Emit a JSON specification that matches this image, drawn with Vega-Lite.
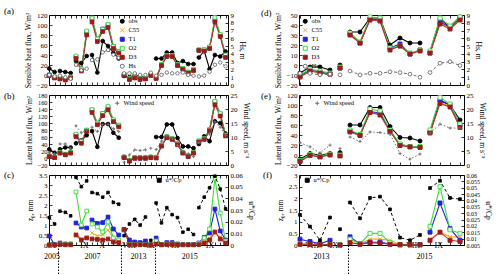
{
"$schema":"https://vega.github.io/schema/vega-lite/v6.json",
"padding":{"left":3,"top":6,"right":2,"bottom":0},
"background":"white",
"config":{
 "font":"Liberation Serif",
 "view":{"stroke":"black","strokeWidth":1},
 "axis":{"labelFont":"Liberation Serif","titleFont":"Liberation Serif","labelFontSize":7,"titleFontSize":7.6,"titleFontWeight":"normal","labelColor":"black","titleColor":"black","tickColor":"black","tickSize":-3,"tickWidth":0.8,"domain":false,"grid":false,"labelPadding":5,"labelOverlap":false,"labelFlush":false,"titlePadding":4},
 "legend":{"labelFont":"Liberation Serif","labelFontSize":6.5,"labelColor":"black","symbolSize":16,"rowPadding":0,"padding":0,"symbolStrokeWidth":1,"labelOffset":3},
 "title":{"font":"Liberation Serif","fontSize":9,"fontWeight":"normal","anchor":"start","frame":"group","offset":0,"baseline":"middle","orient":"top"}
},
"datasets":{
"a":[
{"i":0,"g":1,"obs":13,"C55":0,"T1":0,"O2":0,"D3":-1,"Hs":1.3},
{"i":1,"g":1,"obs":6,"C55":-5,"T1":-5,"O2":-4,"D3":-6,"Hs":1.1},
{"i":2,"g":2,"obs":8,"C55":-7,"T1":-7,"O2":-6,"D3":-8,"Hs":1.2},
{"i":3,"g":2,"obs":6,"C55":-9,"T1":-9,"O2":-8,"D3":-10,"Hs":1.0},
{"i":4,"g":2,"obs":4,"C55":-5,"T1":-5,"O2":-4,"D3":-6,"Hs":0.8},
{"i":5,"g":3,"obs":28,"C55":36,"T1":36,"O2":38,"D3":33,"Hs":2.6},
{"i":6,"g":3,"obs":24,"C55":10,"T1":10,"O2":12,"D3":8,"Hs":1.9},
{"i":7,"g":3,"obs":38,"C55":85,"T1":86,"O2":88,"D3":80,"Hs":2.1},
{"i":8,"g":4,"obs":40,"C55":111,"T1":113,"O2":114,"D3":106,"Hs":3.2},
{"i":9,"g":4,"obs":5,"C55":70,"T1":71,"O2":72,"D3":67,"Hs":3.3},
{"i":10,"g":4,"obs":68,"C55":90,"T1":92,"O2":91,"D3":87,"Hs":4.2},
{"i":11,"g":4,"obs":58,"C55":99,"T1":100,"O2":101,"D3":95,"Hs":4.5},
{"i":12,"g":4,"obs":44,"C55":56,"T1":57,"O2":57,"D3":53,"Hs":3.9},
{"i":13,"g":4,"obs":33,"C55":46,"T1":47,"O2":47,"D3":44,"Hs":3.5},
{"i":14,"g":5,"obs":-2,"C55":0,"T1":0,"O2":1,"D3":-1,"Hs":1.5},
{"i":15,"g":5,"obs":-4,"C55":-8,"T1":-8,"O2":-7,"D3":-9,"Hs":1.5},
{"i":16,"g":5,"obs":0,"C55":-5,"T1":-5,"O2":-4,"D3":-6,"Hs":1.5},
{"i":17,"g":5,"obs":-3,"C55":-8,"T1":-8,"O2":-7,"D3":-9,"Hs":1.3},
{"i":18,"g":5,"obs":-5,"C55":-7,"T1":-7,"O2":-6,"D3":-8,"Hs":1.3},
{"i":19,"g":6,"obs":2,"C55":0,"T1":0,"O2":1,"D3":-1,"Hs":1.6},
{"i":20,"g":7,"obs":33,"C55":-6,"T1":-6,"O2":-5,"D3":-7,"Hs":1.2},
{"i":21,"g":7,"obs":33,"C55":20,"T1":20,"O2":21,"D3":19,"Hs":1.3},
{"i":22,"g":7,"obs":45,"C55":38,"T1":38,"O2":39,"D3":37,"Hs":1.6},
{"i":23,"g":7,"obs":45,"C55":38,"T1":38,"O2":39,"D3":37,"Hs":1.5},
{"i":24,"g":7,"obs":24,"C55":20,"T1":20,"O2":21,"D3":19,"Hs":1.5},
{"i":25,"g":7,"obs":28,"C55":12,"T1":12,"O2":13,"D3":11,"Hs":1.6},
{"i":26,"g":7,"obs":22,"C55":5,"T1":5,"O2":6,"D3":4,"Hs":1.3},
{"i":27,"g":7,"obs":22,"C55":10,"T1":10,"O2":11,"D3":9,"Hs":1.2},
{"i":28,"g":8,"obs":35,"C55":50,"T1":50,"O2":50,"D3":49,"Hs":1.1},
{"i":29,"g":8,"obs":48,"C55":50,"T1":50,"O2":51,"D3":48,"Hs":1.2},
{"i":30,"g":8,"obs":12,"C55":55,"T1":55,"O2":56,"D3":53,"Hs":1.7},
{"i":31,"g":8,"obs":40,"C55":110,"T1":110,"O2":115,"D3":106,"Hs":2.6},
{"i":32,"g":8,"obs":37,"C55":80,"T1":80,"O2":81,"D3":77,"Hs":2.9},
{"i":33,"g":8,"obs":47,"C55":38,"T1":38,"O2":40,"D3":35,"Hs":2.4}
],
"b":[
{"i":0,"g":1,"obs":25,"C55":5,"T1":5,"O2":6,"D3":4,"Wind speed":4.5},
{"i":1,"g":1,"obs":15,"C55":2,"T1":2,"O2":3,"D3":1,"Wind speed":4.0},
{"i":2,"g":2,"obs":25,"C55":15,"T1":15,"O2":16,"D3":14,"Wind speed":7.5},
{"i":3,"g":2,"obs":30,"C55":10,"T1":10,"O2":11,"D3":9,"Wind speed":7.5},
{"i":4,"g":2,"obs":30,"C55":15,"T1":15,"O2":16,"D3":14,"Wind speed":6.0},
{"i":5,"g":3,"obs":42,"C55":65,"T1":66,"O2":68,"D3":61,"Wind speed":14.0},
{"i":6,"g":3,"obs":50,"C55":45,"T1":45,"O2":47,"D3":42,"Wind speed":11.5},
{"i":7,"g":3,"obs":65,"C55":78,"T1":79,"O2":80,"D3":76,"Wind speed":12.5},
{"i":8,"g":4,"obs":77,"C55":135,"T1":137,"O2":138,"D3":130,"Wind speed":13.5},
{"i":9,"g":4,"obs":32,"C55":98,"T1":99,"O2":100,"D3":95,"Wind speed":12.0},
{"i":10,"g":4,"obs":97,"C55":125,"T1":127,"O2":127,"D3":121,"Wind speed":14.5},
{"i":11,"g":4,"obs":97,"C55":143,"T1":145,"O2":147,"D3":138,"Wind speed":14.5},
{"i":12,"g":4,"obs":72,"C55":107,"T1":108,"O2":109,"D3":104,"Wind speed":13.0},
{"i":13,"g":4,"obs":58,"C55":92,"T1":93,"O2":94,"D3":89,"Wind speed":12.0},
{"i":14,"g":5,"obs":3,"C55":2,"T1":2,"O2":3,"D3":1,"Wind speed":1.0},
{"i":15,"g":5,"obs":-6,"C55":-8,"T1":-8,"O2":-7,"D3":-9,"Wind speed":3.6},
{"i":16,"g":5,"obs":2,"C55":0,"T1":0,"O2":1,"D3":-1,"Wind speed":5.4},
{"i":17,"g":5,"obs":2,"C55":0,"T1":0,"O2":1,"D3":-1,"Wind speed":5.2},
{"i":18,"g":5,"obs":2,"C55":0,"T1":0,"O2":1,"D3":-1,"Wind speed":5.4},
{"i":19,"g":6,"obs":3,"C55":2,"T1":2,"O2":3,"D3":1,"Wind speed":6.0},
{"i":20,"g":7,"obs":60,"C55":1,"T1":1,"O2":2,"D3":0,"Wind speed":5.5},
{"i":21,"g":7,"obs":60,"C55":35,"T1":35,"O2":36,"D3":34,"Wind speed":8.5},
{"i":22,"g":7,"obs":96,"C55":60,"T1":60,"O2":61,"D3":58,"Wind speed":10.5},
{"i":23,"g":7,"obs":96,"C55":55,"T1":55,"O2":56,"D3":53,"Wind speed":9.5},
{"i":24,"g":7,"obs":57,"C55":40,"T1":40,"O2":41,"D3":38,"Wind speed":7.0},
{"i":25,"g":7,"obs":33,"C55":15,"T1":15,"O2":16,"D3":14,"Wind speed":5.0},
{"i":26,"g":7,"obs":33,"C55":5,"T1":5,"O2":6,"D3":4,"Wind speed":4.0},
{"i":27,"g":7,"obs":28,"C55":15,"T1":15,"O2":16,"D3":14,"Wind speed":3.0},
{"i":28,"g":8,"obs":40,"C55":48,"T1":48,"O2":49,"D3":46,"Wind speed":8.0},
{"i":29,"g":8,"obs":62,"C55":55,"T1":55,"O2":56,"D3":53,"Wind speed":10.0},
{"i":30,"g":8,"obs":48,"C55":80,"T1":80,"O2":82,"D3":78,"Wind speed":11.0},
{"i":31,"g":8,"obs":105,"C55":158,"T1":160,"O2":162,"D3":152,"Wind speed":15.5},
{"i":32,"g":8,"obs":100,"C55":125,"T1":126,"O2":128,"D3":120,"Wind speed":13.5},
{"i":33,"g":8,"obs":70,"C55":65,"T1":65,"O2":66,"D3":63,"Wind speed":10.5}
],
"c":[
{"i":0,"g":1,"C55":0,"T1":0.45,"O2":0,"D3":0,"u*/Cp":0.0235},
{"i":1,"g":1,"C55":0,"T1":0.02,"O2":0,"D3":0,"u*/Cp":0.018},
{"i":2,"g":2,"C55":0.05,"T1":0.1,"O2":0.05,"D3":0.02,"u*/Cp":0.029},
{"i":3,"g":2,"C55":0.03,"T1":0.05,"O2":0.04,"D3":0.01,"u*/Cp":0.028},
{"i":4,"g":2,"C55":0.03,"T1":0.05,"O2":0.04,"D3":0.01,"u*/Cp":0.025},
{"i":5,"g":3,"C55":0.55,"T1":1.1,"O2":2.65,"D3":0.5,"u*/Cp":0.058},
{"i":6,"g":3,"C55":0.3,"T1":0.9,"O2":1.0,"D3":0.25,"u*/Cp":0.05},
{"i":7,"g":3,"C55":0.4,"T1":0.85,"O2":1.7,"D3":0.35,"u*/Cp":0.055},
{"i":8,"g":4,"C55":0.6,"T1":1.25,"O2":1.05,"D3":0.3,"u*/Cp":0.045},
{"i":9,"g":4,"C55":0.45,"T1":1.08,"O2":0.9,"D3":0.28,"u*/Cp":0.044},
{"i":10,"g":4,"C55":0.5,"T1":1.12,"O2":0.65,"D3":0.25,"u*/Cp":0.041},
{"i":11,"g":4,"C55":0.75,"T1":1.4,"O2":1.15,"D3":0.3,"u*/Cp":0.045},
{"i":12,"g":4,"C55":0.35,"T1":0.8,"O2":0.35,"D3":0.15,"u*/Cp":0.0365},
{"i":13,"g":4,"C55":0.2,"T1":0.5,"O2":0.25,"D3":0.12,"u*/Cp":0.035},
{"i":14,"g":5,"C55":0.75,"T1":0.75,"O2":0.78,"D3":0.78,"u*/Cp":0.008},
{"i":15,"g":5,"C55":0.02,"T1":0.25,"O2":0.02,"D3":0.01,"u*/Cp":0.018},
{"i":16,"g":5,"C55":0.02,"T1":0.15,"O2":0.02,"D3":0.01,"u*/Cp":0.022},
{"i":17,"g":5,"C55":0.02,"T1":0.12,"O2":0.02,"D3":0.01,"u*/Cp":0.017},
{"i":18,"g":5,"C55":0.02,"T1":0.2,"O2":0.02,"D3":0.01,"u*/Cp":0.024},
{"i":19,"g":6,"C55":0,"T1":0,"O2":0,"D3":0,"u*/Cp":0.004},
{"i":20,"g":7,"C55":0.05,"T1":0.35,"O2":0.2,"D3":0.05,"u*/Cp":0.036},
{"i":21,"g":7,"C55":0.01,"T1":0.02,"O2":0.01,"D3":0.01,"u*/Cp":0.019},
{"i":22,"g":7,"C55":0.03,"T1":0.12,"O2":0.05,"D3":0.02,"u*/Cp":0.032},
{"i":23,"g":7,"C55":0.03,"T1":0.12,"O2":0.05,"D3":0.02,"u*/Cp":0.026},
{"i":24,"g":7,"C55":0.02,"T1":0.05,"O2":0.02,"D3":0.01,"u*/Cp":0.0235},
{"i":25,"g":7,"C55":0.01,"T1":0.02,"O2":0.01,"D3":0.01,"u*/Cp":0.011},
{"i":26,"g":7,"C55":0.01,"T1":0.02,"O2":0.01,"D3":0.01,"u*/Cp":0.0135},
{"i":27,"g":7,"C55":0.01,"T1":0.02,"O2":0.01,"D3":0.01,"u*/Cp":0.009},
{"i":28,"g":8,"C55":0.05,"T1":0.1,"O2":0.08,"D3":0.02,"u*/Cp":0.032},
{"i":29,"g":8,"C55":0.15,"T1":0.38,"O2":0.35,"D3":0.1,"u*/Cp":0.041},
{"i":30,"g":8,"C55":0.35,"T1":0.6,"O2":0.8,"D3":0.25,"u*/Cp":0.049},
{"i":31,"g":8,"C55":0.6,"T1":1.8,"O2":3.35,"D3":0.65,"u*/Cp":0.059},
{"i":32,"g":8,"C55":0.4,"T1":0.7,"O2":1.6,"D3":0.3,"u*/Cp":0.048},
{"i":33,"g":8,"C55":0.15,"T1":0.25,"O2":0.2,"D3":0.1,"u*/Cp":0.031}
],
"d":[
{"i":0,"g":1,"obs":-8,"C55":-11,"T1":-11,"O2":-10,"D3":-12,"Hs":1.5},
{"i":1,"g":1,"obs":-2,"C55":-5,"T1":-5,"O2":-4,"D3":-6,"Hs":1.5},
{"i":2,"g":1,"obs":-2,"C55":-7,"T1":-7,"O2":-6,"D3":-8,"Hs":1.3},
{"i":3,"g":1,"obs":-5,"C55":-9,"T1":-9,"O2":-8,"D3":-9,"Hs":1.4},
{"i":4,"g":2,"obs":0,"C55":-3,"T1":-3,"O2":-2,"D3":-3,"Hs":1.3},
{"i":5,"g":3,"obs":33,"C55":31,"T1":31,"O2":32,"D3":30,"Hs":1.8},
{"i":6,"g":3,"obs":33,"C55":22,"T1":22,"O2":23,"D3":22,"Hs":1.3},
{"i":7,"g":3,"obs":47,"C55":46,"T1":46,"O2":48,"D3":45,"Hs":1.5},
{"i":8,"g":3,"obs":47,"C55":45,"T1":45,"O2":47,"D3":44,"Hs":1.5},
{"i":9,"g":3,"obs":20,"C55":16,"T1":17,"O2":17,"D3":15,"Hs":1.7},
{"i":10,"g":3,"obs":27,"C55":19,"T1":21,"O2":19,"D3":19,"Hs":1.6},
{"i":11,"g":3,"obs":22,"C55":11,"T1":11,"O2":12,"D3":11,"Hs":1.4},
{"i":12,"g":3,"obs":22,"C55":15,"T1":15,"O2":15,"D3":14,"Hs":1.0},
{"i":13,"g":4,"obs":13,"C55":12,"T1":12,"O2":14,"D3":12,"Hs":1.6},
{"i":14,"g":4,"obs":46,"C55":42,"T1":43,"O2":47,"D3":41,"Hs":2.8},
{"i":15,"g":4,"obs":38,"C55":37,"T1":38,"O2":39,"D3":36,"Hs":3.0},
{"i":16,"g":4,"obs":48,"C55":46,"T1":47,"O2":48,"D3":45,"Hs":2.5}
],
"e":[
{"i":0,"g":1,"obs":-8,"C55":-12,"T1":-12,"O2":-11,"D3":-13,"Wind speed":8.0},
{"i":1,"g":1,"obs":3,"C55":0,"T1":0,"O2":1,"D3":-1,"Wind speed":6.5},
{"i":2,"g":1,"obs":0,"C55":-3,"T1":-3,"O2":-2,"D3":-4,"Wind speed":4.3},
{"i":3,"g":1,"obs":3,"C55":1,"T1":1,"O2":2,"D3":0,"Wind speed":7.1},
{"i":4,"g":2,"obs":5,"C55":-1,"T1":-1,"O2":0,"D3":-2,"Wind speed":5.9},
{"i":5,"g":3,"obs":60,"C55":47,"T1":48,"O2":50,"D3":46,"Wind speed":10.0},
{"i":6,"g":3,"obs":60,"C55":40,"T1":40,"O2":41,"D3":39,"Wind speed":8.4},
{"i":7,"g":3,"obs":95,"C55":86,"T1":87,"O2":92,"D3":85,"Wind speed":11.8},
{"i":8,"g":3,"obs":95,"C55":82,"T1":84,"O2":88,"D3":80,"Wind speed":11.6},
{"i":9,"g":3,"obs":57,"C55":48,"T1":49,"O2":50,"D3":47,"Wind speed":11.0},
{"i":10,"g":3,"obs":35,"C55":20,"T1":21,"O2":22,"D3":19,"Wind speed":4.1},
{"i":11,"g":3,"obs":34,"C55":16,"T1":17,"O2":17,"D3":16,"Wind speed":2.1},
{"i":12,"g":3,"obs":28,"C55":16,"T1":16,"O2":17,"D3":15,"Wind speed":3.9},
{"i":13,"g":4,"obs":45,"C55":45,"T1":46,"O2":50,"D3":44,"Wind speed":11.4},
{"i":14,"g":4,"obs":108,"C55":105,"T1":110,"O2":115,"D3":103,"Wind speed":14.6},
{"i":15,"g":4,"obs":100,"C55":98,"T1":100,"O2":102,"D3":96,"Wind speed":13.2},
{"i":16,"g":4,"obs":70,"C55":57,"T1":60,"O2":62,"D3":55,"Wind speed":13.2}
],
"f":[
{"i":0,"g":1,"C55":0.05,"T1":0.25,"O2":0.05,"D3":0.03,"u*/Cp":0.0287},
{"i":1,"g":1,"C55":0.03,"T1":0.15,"O2":0.02,"D3":0.02,"u*/Cp":0.0195},
{"i":2,"g":1,"C55":0.02,"T1":0.05,"O2":0.01,"D3":0.01,"u*/Cp":0.0087},
{"i":3,"g":1,"C55":0.03,"T1":0.2,"O2":0.02,"D3":0.01,"u*/Cp":0.0266},
{"i":4,"g":2,"C55":0.01,"T1":0.0,"O2":0.02,"D3":0.0,"u*/Cp":0.0174},
{"i":5,"g":3,"C55":0.1,"T1":0.35,"O2":0.25,"D3":0.1,"u*/Cp":0.0384},
{"i":6,"g":3,"C55":0.03,"T1":0.05,"O2":0.05,"D3":0.03,"u*/Cp":0.026},
{"i":7,"g":3,"C55":0.25,"T1":0.12,"O2":0.5,"D3":0.1,"u*/Cp":0.042},
{"i":8,"g":3,"C55":0.25,"T1":0.12,"O2":0.5,"D3":0.08,"u*/Cp":0.043},
{"i":9,"g":3,"C55":0.2,"T1":0.05,"O2":0.1,"D3":0.03,"u*/Cp":0.033},
{"i":10,"g":3,"C55":0.02,"T1":0.02,"O2":0.0,"D3":0.01,"u*/Cp":0.0108},
{"i":11,"g":3,"C55":0.02,"T1":0.02,"O2":0.0,"D3":0.01,"u*/Cp":0.0087},
{"i":12,"g":3,"C55":0.02,"T1":0.02,"O2":0.0,"D3":0.01,"u*/Cp":0.0129},
{"i":13,"g":4,"C55":0.25,"T1":0.55,"O2":0.8,"D3":0.2,"u*/Cp":0.0497},
{"i":14,"g":4,"C55":0.55,"T1":1.8,"O2":2.5,"D3":0.55,"u*/Cp":0.0555},
{"i":15,"g":4,"C55":0.35,"T1":0.7,"O2":0.65,"D3":0.2,"u*/Cp":0.042},
{"i":16,"g":4,"C55":0.35,"T1":0.2,"O2":0.5,"D3":0.15,"u*/Cp":0.041}
]
},
"columns":2,
"spacing":{"row":10,"column":71},
"bounds":"flush",
"align":"each",
"resolve":{"scale":{"color":"independent","stroke":"independent","fill":"independent","shape":"independent"},"legend":{"color":"independent","stroke":"independent","fill":"independent","shape":"independent"}},
"concat":[
 {"width":179,"height":70,"title":{"text":"(a)","dx":-45,"dy":9},"data":{"name":"a"},
  "layer":[
   {"transform":[{"fold":["obs","C55","T1","O2","D3"],"as":["series","v"]}],
    "encoding":{
     "x":{"field":"i","type":"quantitative","scale":{"domain":[-0.05,33.45],"nice":false,"zero":false},"axis":{"orient":"bottom","values":[0,1,2,3,4,5,6,7,8,9,10,11,12,13,14,15,16,17,18,19,20,21,22,23,24,25,26,27,28,29,30,31,32,33],"labels":false,"title":null}},
     "y":{"field":"v","type":"quantitative","scale":{"domain":[-20,120],"nice":false,"zero":false},"axis":{"orient":"left","values":[-20,0,20,40,60,80,100,120],"title":"Sensible heat flux, W/m²"}},
     "detail":{"field":"g","type":"nominal"}
    },
    "layer":[
     {"mark":{"type":"line","strokeWidth":1.1},"encoding":{"color":{"field":"series","type":"nominal","scale":{"domain":["obs","C55","T1","O2","D3","Hs","-"],"range":["#000000","#f4a81d","#2020e8","#33e033","#c03030","#6e6e6e","#ffffff"]},"legend":null}}},
     {"mark":{"type":"point","size":14,"opacity":1,"strokeWidth":0.9},
      "encoding":{
       "stroke":{"field":"series","type":"nominal","scale":{"domain":["obs","C55","T1","O2","D3","Hs"],"range":["#000000","#f4a81d","#2020e8","#33e033","#a01818","#6e6e6e"]},"legend":{"orient":"none","legendX":70,"legendY":3,"title":null}},
       "fill":{"field":"series","type":"nominal","scale":{"domain":["obs","C55","T1","O2","D3","Hs"],"range":["#000000","#f4a81d","#2020e8","#ffffff","#a01818","#ffffff"]},"legend":{"orient":"none","legendX":70,"legendY":3,"title":null}},
       "shape":{"field":"series","type":"nominal","scale":{"domain":["obs","C55","T1","O2","D3","Hs"],"range":["circle","M-1,-1L1,1M-1,1L1,-1","square","square","square","circle"]},"legend":{"orient":"none","legendX":70,"legendY":3,"title":null}}
      }}
    ]},
   {"transform":[{"fold":["Hs"],"as":["series","v"]}],
    "encoding":{
     "x":{"field":"i","type":"quantitative","scale":{"domain":[-0.05,33.45],"nice":false,"zero":false},"axis":{"orient":"top","values":[0,1,2,3,4,5,6,7,8,9,10,11,12,13,14,15,16,17,18,19,20,21,22,23,24,25,26,27,28,29,30,31,32,33],"labels":false,"title":null}},
     "y":{"field":"v","type":"quantitative","scale":{"domain":[0,9],"nice":false,"zero":false},"axis":{"orient":"right","values":[0,1,2,3,4,5,6,7,8,9],"title":"Hs, m"}},
     "detail":{"field":"g","type":"nominal"}
    },
    "layer":[
     {"mark":{"type":"line","strokeWidth":1,"strokeDash":[3,2]},"encoding":{"color":{"field":"series","type":"nominal","scale":{"domain":["obs","C55","T1","O2","D3","Hs","-"],"range":["#000000","#f4a81d","#2020e8","#33e033","#c03030","#6e6e6e","#ffffff"]},"legend":null}}},
     {"mark":{"type":"point","size":12,"opacity":1,"strokeWidth":0.9},
      "encoding":{
       "stroke":{"field":"series","type":"nominal","scale":{"domain":["obs","C55","T1","O2","D3","Hs"],"range":["#000000","#f4a81d","#2020e8","#33e033","#a01818","#6e6e6e"]},"legend":{"orient":"none","legendX":70,"legendY":3,"title":null}},
       "fill":{"field":"series","type":"nominal","scale":{"domain":["obs","C55","T1","O2","D3","Hs"],"range":["#000000","#f4a81d","#2020e8","#ffffff","#a01818","#ffffff"]},"legend":{"orient":"none","legendX":70,"legendY":3,"title":null}},
       "shape":{"field":"series","type":"nominal","scale":{"domain":["obs","C55","T1","O2","D3","Hs"],"range":["circle","M-1,-1L1,1M-1,1L1,-1","square","square","square","circle"]},"legend":{"orient":"none","legendX":70,"legendY":3,"title":null}}
      }}
    ]}
  ],
  "resolve":{"scale":{"y":"independent"},"axis":{"x":"independent","y":"independent"}}
 },
 {"width":165,"height":70,"title":{"text":"(d)","dx":-38,"dy":10.5},"data":{"name":"d"},
  "layer":[
   {"transform":[{"fold":["obs","C55","T1","O2","D3"],"as":["series","v"]}],
    "encoding":{
     "x":{"field":"i","type":"quantitative","scale":{"domain":[-0.1,16.4],"nice":false,"zero":false},"axis":{"orient":"bottom","values":[0,1,2,3,4,5,6,7,8,9,10,11,12,13,14,15,16],"labels":false,"title":null}},
     "y":{"field":"v","type":"quantitative","scale":{"domain":[-20,50],"nice":false,"zero":false},"axis":{"orient":"left","values":[-20,-10,0,10,20,30,40,50],"title":"Sensible heat flux, W/m²"}},
     "detail":{"field":"g","type":"nominal"}
    },
    "layer":[
     {"mark":{"type":"line","strokeWidth":1.1},"encoding":{"color":{"field":"series","type":"nominal","scale":{"domain":["obs","C55","T1","O2","D3","Hs","-"],"range":["#000000","#f4a81d","#2020e8","#33e033","#c03030","#6e6e6e","#ffffff"]},"legend":null}}},
     {"mark":{"type":"point","size":16,"opacity":1,"strokeWidth":0.9},
      "encoding":{
       "stroke":{"field":"series","type":"nominal","scale":{"domain":["obs","C55","T1","O2","D3","Hs"],"range":["#000000","#f4a81d","#2020e8","#33e033","#a01818","#6e6e6e"]},"legend":{"orient":"none","legendX":3,"legendY":3,"title":null}},
       "fill":{"field":"series","type":"nominal","scale":{"domain":["obs","C55","T1","O2","D3","Hs"],"range":["#000000","#f4a81d","#2020e8","#ffffff","#a01818","#ffffff"]},"legend":{"orient":"none","legendX":3,"legendY":3,"title":null}},
       "shape":{"field":"series","type":"nominal","scale":{"domain":["obs","C55","T1","O2","D3","Hs"],"range":["circle","M-1,-1L1,1M-1,1L1,-1","square","square","square","circle"]},"legend":{"orient":"none","legendX":3,"legendY":3,"title":null}}
      }}
    ]},
   {"transform":[{"fold":["Hs"],"as":["series","v"]}],
    "encoding":{
     "x":{"field":"i","type":"quantitative","scale":{"domain":[-0.1,16.4],"nice":false,"zero":false},"axis":{"orient":"top","values":[0,1,2,3,4,5,6,7,8,9,10,11,12,13,14,15,16],"labels":false,"title":null}},
     "y":{"field":"v","type":"quantitative","scale":{"domain":[0,9],"nice":false,"zero":false},"axis":{"orient":"right","values":[0,1,2,3,4,5,6,7,8,9],"title":"Hs, m"}},
     "detail":{"field":"g","type":"nominal"}
    },
    "layer":[
     {"mark":{"type":"line","strokeWidth":1,"strokeDash":[3,2]},"encoding":{"color":{"field":"series","type":"nominal","scale":{"domain":["obs","C55","T1","O2","D3","Hs","-"],"range":["#000000","#f4a81d","#2020e8","#33e033","#c03030","#6e6e6e","#ffffff"]},"legend":null}}},
     {"mark":{"type":"point","size":14,"opacity":1,"strokeWidth":0.9},
      "encoding":{
       "stroke":{"field":"series","type":"nominal","scale":{"domain":["obs","C55","T1","O2","D3","Hs"],"range":["#000000","#f4a81d","#2020e8","#33e033","#a01818","#6e6e6e"]},"legend":{"orient":"none","legendX":3,"legendY":3,"title":null}},
       "fill":{"field":"series","type":"nominal","scale":{"domain":["obs","C55","T1","O2","D3","Hs"],"range":["#000000","#f4a81d","#2020e8","#ffffff","#a01818","#ffffff"]},"legend":{"orient":"none","legendX":3,"legendY":3,"title":null}},
       "shape":{"field":"series","type":"nominal","scale":{"domain":["obs","C55","T1","O2","D3","Hs"],"range":["circle","M-1,-1L1,1M-1,1L1,-1","square","square","square","circle"]},"legend":{"orient":"none","legendX":3,"legendY":3,"title":null}}
      }}
    ]}
  ],
  "resolve":{"scale":{"y":"independent"},"axis":{"x":"independent","y":"independent"}}
 },
 {"width":179,"height":70,"title":{"text":"(b)","dx":-45,"dy":14},"data":{"name":"b"},
  "layer":[
   {"transform":[{"fold":["obs","C55","T1","O2","D3"],"as":["series","v"]}],
    "encoding":{
     "x":{"field":"i","type":"quantitative","scale":{"domain":[-0.05,33.45],"nice":false,"zero":false},"axis":{"orient":"bottom","values":[0,1,2,3,4,5,6,7,8,9,10,11,12,13,14,15,16,17,18,19,20,21,22,23,24,25,26,27,28,29,30,31,32,33],"labels":false,"title":null}},
     "y":{"field":"v","type":"quantitative","scale":{"domain":[-20,180],"nice":false,"zero":false},"axis":{"orient":"left","values":[-20,0,20,40,60,80,100,120,140,160,180],"labelFontSize":6.3,"title":"Latent heat flux, W/m²"}},
     "detail":{"field":"g","type":"nominal"}
    },
    "layer":[
     {"mark":{"type":"line","strokeWidth":1.1},"encoding":{"color":{"field":"series","type":"nominal","scale":{"domain":["obs","C55","T1","O2","D3","Wind speed","-"],"range":["#000000","#f4a81d","#2020e8","#33e033","#c03030","#6e6e6e","#ffffff"]},"legend":null}}},
     {"mark":{"type":"point","size":14,"opacity":1,"strokeWidth":0.9},
      "encoding":{
       "stroke":{"field":"series","type":"nominal","scale":{"domain":["obs","C55","T1","O2","D3","Wind speed"],"range":["#000000","#f4a81d","#2020e8","#33e033","#a01818","#6e6e6e"]},"legend":{"orient":"none","legendX":65,"legendY":5,"title":null,"values":["Wind speed"]}},
       "fill":{"field":"series","type":"nominal","scale":{"domain":["obs","C55","T1","O2","D3","Wind speed"],"range":["#000000","#f4a81d","#2020e8","#ffffff","#a01818","#6e6e6e"]},"legend":{"orient":"none","legendX":65,"legendY":5,"title":null,"values":["Wind speed"]}},
       "shape":{"field":"series","type":"nominal","scale":{"domain":["obs","C55","T1","O2","D3","Wind speed"],"range":["circle","M-1,-1L1,1M-1,1L1,-1","square","square","square","M-1,0L1,0M0,-1L0,1"]},"legend":{"orient":"none","legendX":65,"legendY":5,"title":null,"values":["Wind speed"]}}
      }}
    ]},
   {"transform":[{"fold":["Wind speed"],"as":["series","v"]}],
    "encoding":{
     "x":{"field":"i","type":"quantitative","scale":{"domain":[-0.05,33.45],"nice":false,"zero":false},"axis":{"orient":"top","values":[0,1,2,3,4,5,6,7,8,9,10,11,12,13,14,15,16,17,18,19,20,21,22,23,24,25,26,27,28,29,30,31,32,33],"labels":false,"title":null}},
     "y":{"field":"v","type":"quantitative","scale":{"domain":[0,25],"nice":false,"zero":false},"axis":{"orient":"right","values":[0,5,10,15,20,25],"title":"Wind speed, m s⁻¹"}},
     "detail":{"field":"g","type":"nominal"}
    },
    "layer":[
     {"mark":{"type":"line","strokeWidth":1,"strokeDash":[1.5,2]},"encoding":{"color":{"field":"series","type":"nominal","scale":{"domain":["obs","C55","T1","O2","D3","Wind speed","-"],"range":["#000000","#f4a81d","#2020e8","#33e033","#c03030","#6e6e6e","#ffffff"]},"legend":null}}},
     {"mark":{"type":"point","size":10,"opacity":1,"strokeWidth":0.9},
      "encoding":{
       "stroke":{"field":"series","type":"nominal","scale":{"domain":["obs","C55","T1","O2","D3","Wind speed"],"range":["#000000","#f4a81d","#2020e8","#33e033","#a01818","#6e6e6e"]},"legend":{"orient":"none","legendX":65,"legendY":5,"title":null,"values":["Wind speed"]}},
       "fill":{"field":"series","type":"nominal","scale":{"domain":["obs","C55","T1","O2","D3","Wind speed"],"range":["#000000","#f4a81d","#2020e8","#ffffff","#a01818","#6e6e6e"]},"legend":{"orient":"none","legendX":65,"legendY":5,"title":null,"values":["Wind speed"]}},
       "shape":{"field":"series","type":"nominal","scale":{"domain":["obs","C55","T1","O2","D3","Wind speed"],"range":["circle","M-1,-1L1,1M-1,1L1,-1","square","square","square","M-1,0L1,0M0,-1L0,1"]},"legend":{"orient":"none","legendX":65,"legendY":5,"title":null,"values":["Wind speed"]}}
      }}
    ]}
  ],
  "resolve":{"scale":{"y":"independent"},"axis":{"x":"independent","y":"independent"}}
 },
 {"width":165,"height":70,"title":{"text":"(e)","dx":-38,"dy":13.5},"data":{"name":"e"},
  "layer":[
   {"transform":[{"fold":["obs","C55","T1","O2","D3"],"as":["series","v"]}],
    "encoding":{
     "x":{"field":"i","type":"quantitative","scale":{"domain":[-0.1,16.4],"nice":false,"zero":false},"axis":{"orient":"bottom","values":[0,1,2,3,4,5,6,7,8,9,10,11,12,13,14,15,16],"labels":false,"title":null}},
     "y":{"field":"v","type":"quantitative","scale":{"domain":[-20,120],"nice":false,"zero":false},"axis":{"orient":"left","values":[-20,0,20,40,60,80,100,120],"title":"Latent heat flux, W/m²"}},
     "detail":{"field":"g","type":"nominal"}
    },
    "layer":[
     {"mark":{"type":"line","strokeWidth":1.1},"encoding":{"color":{"field":"series","type":"nominal","scale":{"domain":["obs","C55","T1","O2","D3","Wind speed","-"],"range":["#000000","#f4a81d","#2020e8","#33e033","#c03030","#6e6e6e","#ffffff"]},"legend":null}}},
     {"mark":{"type":"point","size":16,"opacity":1,"strokeWidth":0.9},
      "encoding":{
       "stroke":{"field":"series","type":"nominal","scale":{"domain":["obs","C55","T1","O2","D3","Wind speed"],"range":["#000000","#f4a81d","#2020e8","#33e033","#a01818","#6e6e6e"]},"legend":{"orient":"none","legendX":15,"legendY":5,"title":null,"values":["Wind speed"]}},
       "fill":{"field":"series","type":"nominal","scale":{"domain":["obs","C55","T1","O2","D3","Wind speed"],"range":["#000000","#f4a81d","#2020e8","#ffffff","#a01818","#6e6e6e"]},"legend":{"orient":"none","legendX":15,"legendY":5,"title":null,"values":["Wind speed"]}},
       "shape":{"field":"series","type":"nominal","scale":{"domain":["obs","C55","T1","O2","D3","Wind speed"],"range":["circle","M-1,-1L1,1M-1,1L1,-1","square","square","square","M-1,0L1,0M0,-1L0,1"]},"legend":{"orient":"none","legendX":15,"legendY":5,"title":null,"values":["Wind speed"]}}
      }}
    ]},
   {"transform":[{"fold":["Wind speed"],"as":["series","v"]}],
    "encoding":{
     "x":{"field":"i","type":"quantitative","scale":{"domain":[-0.1,16.4],"nice":false,"zero":false},"axis":{"orient":"top","values":[0,1,2,3,4,5,6,7,8,9,10,11,12,13,14,15,16],"labels":false,"title":null}},
     "y":{"field":"v","type":"quantitative","scale":{"domain":[0,25],"nice":false,"zero":false},"axis":{"orient":"right","values":[0,5,10,15,20,25],"title":"Wind speed, m s⁻¹"}},
     "detail":{"field":"g","type":"nominal"}
    },
    "layer":[
     {"mark":{"type":"line","strokeWidth":1,"strokeDash":[1.5,2]},"encoding":{"color":{"field":"series","type":"nominal","scale":{"domain":["obs","C55","T1","O2","D3","Wind speed","-"],"range":["#000000","#f4a81d","#2020e8","#33e033","#c03030","#6e6e6e","#ffffff"]},"legend":null}}},
     {"mark":{"type":"point","size":10,"opacity":1,"strokeWidth":0.9},
      "encoding":{
       "stroke":{"field":"series","type":"nominal","scale":{"domain":["obs","C55","T1","O2","D3","Wind speed"],"range":["#000000","#f4a81d","#2020e8","#33e033","#a01818","#6e6e6e"]},"legend":{"orient":"none","legendX":15,"legendY":5,"title":null,"values":["Wind speed"]}},
       "fill":{"field":"series","type":"nominal","scale":{"domain":["obs","C55","T1","O2","D3","Wind speed"],"range":["#000000","#f4a81d","#2020e8","#ffffff","#a01818","#6e6e6e"]},"legend":{"orient":"none","legendX":15,"legendY":5,"title":null,"values":["Wind speed"]}},
       "shape":{"field":"series","type":"nominal","scale":{"domain":["obs","C55","T1","O2","D3","Wind speed"],"range":["circle","M-1,-1L1,1M-1,1L1,-1","square","square","square","M-1,0L1,0M0,-1L0,1"]},"legend":{"orient":"none","legendX":15,"legendY":5,"title":null,"values":["Wind speed"]}}
      }}
    ]}
  ],
  "resolve":{"scale":{"y":"independent"},"axis":{"x":"independent","y":"independent"}}
 },
 {"width":179,"height":70,"title":{"text":"(c)","dx":-45,"dy":12.5},"data":{"name":"c"},
  "layer":[
   {"transform":[{"fold":["C55","T1","O2","D3"],"as":["series","v"]}],
    "encoding":{
     "y":{"field":"v","type":"quantitative","scale":{"domain":[0,3.5],"nice":false,"zero":false},"axis":{"orient":"left","values":[0,0.5,1,1.5,2,2.5,3,3.5],"format":"~g","title":"z₀, mm"}},
     "detail":{"field":"g","type":"nominal"}
    },
    "layer":[
     {"mark":{"type":"line","strokeWidth":1.1},
      "encoding":{"x":{"field":"i","type":"quantitative","scale":{"domain":[-0.05,33.45],"nice":false,"zero":false},"axis":{"orient":"bottom","values":[0,1,2,3,4,5,6,7,8,9,10,11,12,13,14,15,16,17,18,19,20,21,22,23,24,25,26,27,28,29,30,31,32,33],"labels":false,"title":null}},
       "color":{"field":"series","type":"nominal","scale":{"domain":["C55","T1","O2","D3","u*/Cp","-"],"range":["#f4a81d","#2020e8","#33e033","#c03030","#000000","#ffffff"]},"legend":null}}},
     {"mark":{"type":"point","size":14,"opacity":1,"strokeWidth":0.9},
      "encoding":{
       "x":{"field":"i","type":"quantitative","scale":{"domain":[-0.05,33.45],"nice":false,"zero":false},"axis":{"orient":"bottom","values":[0.4,8,16.6,26.2],"ticks":false,"labelFontSize":8,"labelLineHeight":11,"labelPadding":2,"offset":-6,"title":null,"labelExpr":"datum.value < 4 ? ['IX','2005'] : datum.value < 12 ? ['IX\u00a0\u00a0-\u00a0\u00a0X','2007'] : datum.value < 20 ? ['VIII\u00a0\u00a0-\u00a0\u00a0IX','2013'] : ['VIII\u00a0\u00a0\u00a0\u00a0\u00a0\u00a0-\u00a0\u00a0\u00a0\u00a0\u00a0\u00a0IX','2015']"}},
       "stroke":{"field":"series","type":"nominal","scale":{"domain":["C55","T1","O2","D3","u*/Cp"],"range":["#f4a81d","#2020e8","#33e033","#a01818","#000000"]},"legend":{"orient":"none","legendX":107,"legendY":2,"title":null,"values":["u*/Cp"]}},
       "fill":{"field":"series","type":"nominal","scale":{"domain":["C55","T1","O2","D3","u*/Cp"],"range":["#f4a81d","#2020e8","#ffffff","#a01818","#000000"]},"legend":{"orient":"none","legendX":107,"legendY":2,"title":null,"values":["u*/Cp"]}},
       "shape":{"field":"series","type":"nominal","scale":{"domain":["C55","T1","O2","D3","u*/Cp"],"range":["M-1,-1L1,1M-1,1L1,-1","square","square","square","square"]},"legend":{"orient":"none","legendX":107,"legendY":2,"title":null,"values":["u*/Cp"]}}
      }}
    ],
    "resolve":{"axis":{"x":"independent"}}},
   {"transform":[{"fold":["u*/Cp"],"as":["series","v"]}],
    "encoding":{
     "y":{"field":"v","type":"quantitative","scale":{"domain":[0,0.06],"nice":false,"zero":false},"axis":{"orient":"right","values":[0,0.01,0.02,0.03,0.04,0.05,0.06],"format":"~g","title":"u*/Cp"}},
     "detail":{"field":"g","type":"nominal"}
    },
    "layer":[
     {"mark":{"type":"line","strokeWidth":1,"strokeDash":[3,2.5]},
      "encoding":{"x":{"field":"i","type":"quantitative","scale":{"domain":[-0.05,33.45],"nice":false,"zero":false},"axis":{"orient":"top","values":[0,1,2,3,4,5,6,7,8,9,10,11,12,13,14,15,16,17,18,19,20,21,22,23,24,25,26,27,28,29,30,31,32,33],"labels":false,"title":null}},
       "color":{"field":"series","type":"nominal","scale":{"domain":["C55","T1","O2","D3","u*/Cp","-"],"range":["#f4a81d","#2020e8","#33e033","#c03030","#000000","#ffffff"]},"legend":null}}},
     {"mark":{"type":"point","size":7,"opacity":1,"strokeWidth":0.8},
      "encoding":{
       "x":{"field":"i","type":"quantitative","scale":{"domain":[-0.05,33.45],"nice":false,"zero":false},"axis":{"orient":"bottom","values":[1.6,13.45,19.8],"labels":false,"tickSize":30,"tickDash":[1.5,1.5],"tickWidth":1,"title":null}},
       "stroke":{"field":"series","type":"nominal","scale":{"domain":["C55","T1","O2","D3","u*/Cp"],"range":["#f4a81d","#2020e8","#33e033","#a01818","#000000"]},"legend":{"orient":"none","legendX":107,"legendY":2,"title":null,"values":["u*/Cp"]}},
       "fill":{"field":"series","type":"nominal","scale":{"domain":["C55","T1","O2","D3","u*/Cp"],"range":["#f4a81d","#2020e8","#ffffff","#a01818","#000000"]},"legend":{"orient":"none","legendX":107,"legendY":2,"title":null,"values":["u*/Cp"]}},
       "shape":{"field":"series","type":"nominal","scale":{"domain":["C55","T1","O2","D3","u*/Cp"],"range":["M-1,-1L1,1M-1,1L1,-1","square","square","square","square"]},"legend":{"orient":"none","legendX":107,"legendY":2,"title":null,"values":["u*/Cp"]}}
      }}
    ],
    "resolve":{"axis":{"x":"independent"}}}
  ],
  "resolve":{"scale":{"y":"independent"},"axis":{"x":"independent","y":"independent"}}
 },
 {"width":165,"height":70,"title":{"text":"(f)","dx":-36,"dy":12.5},"data":{"name":"f"},
  "layer":[
   {"transform":[{"fold":["C55","T1","O2","D3"],"as":["series","v"]}],
    "encoding":{
     "y":{"field":"v","type":"quantitative","scale":{"domain":[0,3],"nice":false,"zero":false},"axis":{"orient":"left","values":[0,0.5,1,1.5,2,2.5,3],"format":"~g","title":"z₀, mm"}},
     "detail":{"field":"g","type":"nominal"}
    },
    "layer":[
     {"mark":{"type":"line","strokeWidth":1.1},
      "encoding":{"x":{"field":"i","type":"quantitative","scale":{"domain":[-0.1,16.4],"nice":false,"zero":false},"axis":{"orient":"bottom","values":[0,1,2,3,4,5,6,7,8,9,10,11,12,13,14,15,16],"labels":false,"title":null}},
       "color":{"field":"series","type":"nominal","scale":{"domain":["C55","T1","O2","D3","u*/Cp","-"],"range":["#f4a81d","#2020e8","#33e033","#c03030","#000000","#ffffff"]},"legend":null}}},
     {"mark":{"type":"point","size":16,"opacity":1,"strokeWidth":0.9},
      "encoding":{
       "x":{"field":"i","type":"quantitative","scale":{"domain":[-0.1,16.4],"nice":false,"zero":false},"axis":{"orient":"bottom","values":[2.1,12.4],"ticks":false,"labelFontSize":8,"labelLineHeight":11,"labelPadding":2,"offset":-6,"title":null,"labelExpr":"datum.value < 6 ? ['VIII\u00a0\u00a0-\u00a0\u00a0IX','2013'] : ['VIII\u00a0\u00a0\u00a0-\u00a0\u00a0\u00a0IX','2015']"}},
       "stroke":{"field":"series","type":"nominal","scale":{"domain":["C55","T1","O2","D3","u*/Cp"],"range":["#f4a81d","#2020e8","#33e033","#a01818","#000000"]},"legend":{"orient":"none","legendX":5,"legendY":2,"title":null,"values":["u*/Cp"]}},
       "fill":{"field":"series","type":"nominal","scale":{"domain":["C55","T1","O2","D3","u*/Cp"],"range":["#f4a81d","#2020e8","#ffffff","#a01818","#000000"]},"legend":{"orient":"none","legendX":5,"legendY":2,"title":null,"values":["u*/Cp"]}},
       "shape":{"field":"series","type":"nominal","scale":{"domain":["C55","T1","O2","D3","u*/Cp"],"range":["M-1,-1L1,1M-1,1L1,-1","square","square","square","square"]},"legend":{"orient":"none","legendX":5,"legendY":2,"title":null,"values":["u*/Cp"]}}
      }}
    ],
    "resolve":{"axis":{"x":"independent"}}},
   {"transform":[{"fold":["u*/Cp"],"as":["series","v"]}],
    "encoding":{
     "y":{"field":"v","type":"quantitative","scale":{"domain":[0.005,0.06],"nice":false,"zero":false},"axis":{"orient":"right","values":[0.005,0.01,0.015,0.02,0.025,0.03,0.035,0.04,0.045,0.05,0.055,0.06],"format":"~g","labelFontSize":6,"title":"u*/Cp"}},
     "detail":{"field":"g","type":"nominal"}
    },
    "layer":[
     {"mark":{"type":"line","strokeWidth":1,"strokeDash":[3,2.5]},
      "encoding":{"x":{"field":"i","type":"quantitative","scale":{"domain":[-0.1,16.4],"nice":false,"zero":false},"axis":{"orient":"top","values":[0,1,2,3,4,5,6,7,8,9,10,11,12,13,14,15,16],"labels":false,"title":null}},
       "color":{"field":"series","type":"nominal","scale":{"domain":["C55","T1","O2","D3","u*/Cp","-"],"range":["#f4a81d","#2020e8","#33e033","#c03030","#000000","#ffffff"]},"legend":null}}},
     {"mark":{"type":"point","size":8,"opacity":1,"strokeWidth":0.8},
      "encoding":{
       "x":{"field":"i","type":"quantitative","scale":{"domain":[-0.1,16.4],"nice":false,"zero":false},"axis":{"orient":"bottom","values":[4.85],"labels":false,"tickSize":30,"tickDash":[1.5,1.5],"tickWidth":1,"title":null}},
       "stroke":{"field":"series","type":"nominal","scale":{"domain":["C55","T1","O2","D3","u*/Cp"],"range":["#f4a81d","#2020e8","#33e033","#a01818","#000000"]},"legend":{"orient":"none","legendX":5,"legendY":2,"title":null,"values":["u*/Cp"]}},
       "fill":{"field":"series","type":"nominal","scale":{"domain":["C55","T1","O2","D3","u*/Cp"],"range":["#f4a81d","#2020e8","#ffffff","#a01818","#000000"]},"legend":{"orient":"none","legendX":5,"legendY":2,"title":null,"values":["u*/Cp"]}},
       "shape":{"field":"series","type":"nominal","scale":{"domain":["C55","T1","O2","D3","u*/Cp"],"range":["M-1,-1L1,1M-1,1L1,-1","square","square","square","square"]},"legend":{"orient":"none","legendX":5,"legendY":2,"title":null,"values":["u*/Cp"]}}
      }}
    ],
    "resolve":{"axis":{"x":"independent"}}}
  ],
  "resolve":{"scale":{"y":"independent"},"axis":{"x":"independent","y":"independent"}}
 }
]
}
